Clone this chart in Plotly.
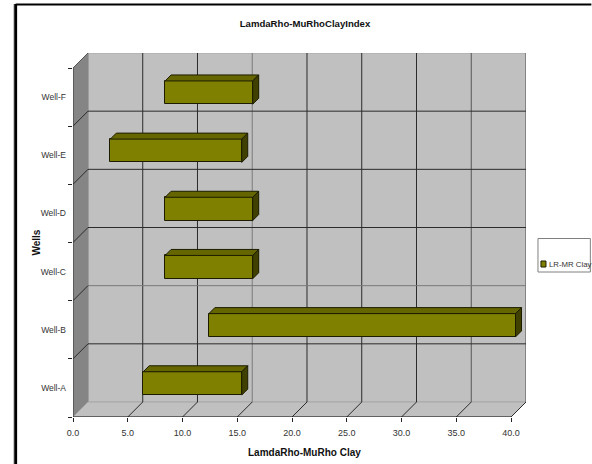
import plotly.graph_objects as go

# Clay index ranges per well
wells = ["Well-A", "Well-B", "Well-C", "Well-D", "Well-E", "Well-F"]
range_low = [6, 12, 8, 8, 3, 8]
range_high = [15, 40, 16, 16, 15, 16]
x_ticks = [0, 5, 10, 15, 20, 25, 30, 35, 40]
x_tick_text = ["0.0", "5.0", "10.0", "15.0", "20.0", "25.0", "30.0", "35.0", "40.0"]
series_name = "LR-MR Clay"

W, H = 592, 464
LEFT, RIGHT, TOP, BOTTOM = 72.5, 526.5, 53, 417
PX_X = (511 - 72.5) / 40   # pixels per value unit
PX_Y = (417 - 68) / 6      # pixels per category
DX = 15 / PX_X             # chart depth in value units
DY = 15 / PX_Y             # chart depth in category units
BAR_DX, BAR_DY = 6 / PX_X, 6 / PX_Y      # bar depth
FRONT_X, FRONT_Y = 4.5 / PX_X, 4.5 / PX_Y  # gap from front of chart to bar face
BAR_H = 0.40

FONT = "Liberation Sans, Arial, sans-serif"
TEXT = "#333333"
WALL, SIDE_WALL = "#c0c0c0", "#858585"
FACE, TOP_FACE, SIDE_FACE = "#808000", "#666600", "#404000"
DARK, MID = "#2b2b2b", "#7a7a7a"


def px(x):
    return (x - LEFT) / (RIGHT - LEFT)


def py(y):
    return (BOTTOM - y) / (BOTTOM - TOP)


def poly(points, color, line=None):
    path = "M " + " L ".join(f"{a},{b}" for a, b in points) + " Z"
    return dict(type="path", path=path, xref="x", yref="y", fillcolor=color,
                line=dict(color=line or color, width=1), layer="below")


def seg(x0, y0, x1, y1, color=DARK, width=1):
    return dict(type="line", x0=x0, y0=y0, x1=x1, y1=y1, xref="x", yref="y",
                line=dict(color=color, width=width), layer="below")


def paper_rect(x0, y0, x1, y1, fill, line):
    return dict(type="rect", xref="paper", yref="paper", x0=px(x0), x1=px(x1),
                y0=py(y0), y1=py(y1), fillcolor=fill, line=dict(color=line, width=1))


n = len(wells)
shapes = [
    poly([(DX, DY), (40 + DX, DY), (40 + DX, n + DY), (DX, n + DY)], WALL, "#a8a8a8"),
    poly([(0, 0), (DX, DY), (DX, n + DY), (0, n)], SIDE_WALL),
    poly([(0, 0), (40, 0), (40 + DX, DY), (DX, DY)], WALL, "#a8a8a8"),
]

# Gridlines on the back wall, continued across the floor and side wall
v_colors = [DARK, DARK, MID, DARK, DARK, DARK, "#555555", "#555555"]
for t, c in zip(x_ticks[1:], v_colors):
    shapes.append(seg(t + DX, DY, t + DX, n + DY, c))
    shapes.append(seg(t, 0, t + DX, DY, DARK))
h_colors = [DARK, MID, DARK, DARK, DARK]
for i, c in zip(range(1, n), h_colors):
    shapes.append(seg(DX, i + DY, 40 + DX, i + DY, c))
    shapes.append(seg(0, i, DX, i + DY, DARK))
shapes.append(seg(0, n, DX, n + DY, "#555555"))

# Axis lines along the front edge
shapes.append(seg(0, 0, 40, 0, "#111111"))
shapes.append(seg(0, 0, 0, n, "#333333"))

# Outer chart frame
shapes += [
    dict(type="line", xref="paper", yref="paper", x0=px(15), x1=px(15), y0=py(4), y1=py(464),
         line=dict(color="#000000", width=3)),
    dict(type="line", xref="paper", yref="paper", x0=px(15), x1=px(592), y0=py(4.5), y1=py(4.5),
         line=dict(color="#000000", width=2)),
    dict(type="line", xref="paper", yref="paper", x0=px(13), x1=px(13), y0=py(4), y1=py(464),
         line=dict(color="#c4c4c4", width=1)),
]

# Legend box with its colour swatch
shapes += [
    paper_rect(538.5, 238.5, 591, 272, "#ffffff", "#808080"),
    paper_rect(541.5, 261, 546.5, 267, FACE, "#1c1c00"),
]

centers = [i + 0.5 + FRONT_Y for i in range(n)]

fig = go.Figure()
fig.add_bar(
    orientation="h", y=centers, x=[h - l for l, h in zip(range_low, range_high)],
    base=[l + FRONT_X for l in range_low], width=BAR_H, name=series_name,
    marker=dict(color=FACE, line=dict(color="#1c1c00", width=1)),
    hoverinfo="skip", showlegend=False,
)

# Top and end faces of each bar
top_x, top_y, side_x, side_y = [], [], [], []
for l, h, c in zip(range_low, range_high, centers):
    x0, x1 = l + FRONT_X, h + FRONT_X
    y0, y1 = c - BAR_H / 2, c + BAR_H / 2
    top_x += [x0, x1, x1 + BAR_DX, x0 + BAR_DX, x0, None]
    top_y += [y1, y1, y1 + BAR_DY, y1 + BAR_DY, y1, None]
    side_x += [x1, x1 + BAR_DX, x1 + BAR_DX, x1, x1, None]
    side_y += [y0, y0 + BAR_DY, y1 + BAR_DY, y1, y0, None]
for xs, ys, color in ((top_x, top_y, TOP_FACE), (side_x, side_y, SIDE_FACE)):
    fig.add_scatter(x=xs, y=ys, mode="lines", fill="toself", fillcolor=color,
                    line=dict(color="#1c1c00", width=1), showlegend=False,
                    hoverinfo="skip")

fig.update_layout(
    width=W, height=H, autosize=False,
    margin=dict(l=LEFT, r=W - RIGHT, t=TOP, b=H - BOTTOM, autoexpand=False),
    paper_bgcolor="#ffffff", plot_bgcolor="#ffffff",
    font=dict(family=FONT, size=9, color=TEXT),
    shapes=shapes, bargap=0, showlegend=False,
    title=dict(text="<b>LamdaRho-MuRhoClayIndex</b>", font=dict(size=9.6, color="#111111"),
               x=px(305), xref="paper", xanchor="center",
               y=1 - 24 / H, yanchor="middle"),
    xaxis=dict(range=[0, 40 + DX], tickvals=x_ticks, ticktext=x_tick_text,
               ticks="outside", ticklen=4, tickcolor="#222222", showgrid=False,
               zeroline=False, showline=False, tickangle=0, ticklabelstandoff=3,
               tickfont=dict(size=9)),
    yaxis=dict(range=[0, n + DY], tickvals=[i + 0.5 for i in range(n)], ticktext=wells,
               ticks="", showgrid=False, zeroline=False, showline=False, ticklabelstandoff=6,
               tickfont=dict(size=8.5),
               minor=dict(tickvals=list(range(n + 1)), ticks="outside", ticklen=4,
                          tickcolor="#222222", showgrid=False)),
    annotations=[
        dict(text="<b>LamdaRho-MuRho Clay</b>", xref="paper", yref="paper", x=px(305), y=py(452),
             showarrow=False, font=dict(size=10, color="#111111"), xanchor="center", yanchor="middle"),
        dict(text="<b>Wells</b>", xref="paper", yref="paper", x=px(36), y=py(243), textangle=-90,
             showarrow=False, font=dict(size=10, color="#111111"), xanchor="center", yanchor="middle"),
        dict(text=series_name, xref="paper", yref="paper", x=px(547.5), y=py(264),
             showarrow=False, font=dict(size=7.8, color=TEXT), xanchor="left", yanchor="middle"),
    ],
)
fig.write_html("out.html")
